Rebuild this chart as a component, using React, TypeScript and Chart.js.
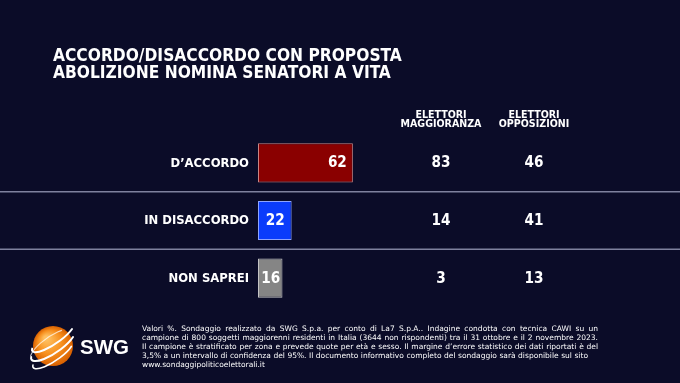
import React, { useEffect, useRef } from "react";
import { Chart, registerables } from "chart.js";

Chart.register(...registerables);

const titleLines = ["ACCORDO/DISACCORDO CON PROPOSTA", "ABOLIZIONE NOMINA SENATORI A VITA"];
const categories = ["D’ACCORDO", "IN DISACCORDO", "NON SAPREI"];
const totalValues = [62, 22, 16];
const maggioranzaValues = [83, 14, 3];
const opposizioniValues = [46, 41, 13];
const columnHeaders = [
  ["ELETTORI", "MAGGIORANZA"],
  ["ELETTORI", "OPPOSIZIONI"],
];
const footerLines = [
  "Valori %. Sondaggio realizzato da SWG S.p.a. per conto di La7 S.p.A.. Indagine condotta con tecnica CAWI su un",
  "campione di 800 soggetti maggiorenni residenti in Italia (3644 non rispondenti) tra il 31 ottobre e il 2 novembre 2023.",
  "Il campione è stratificato per zona e prevede quote per età e sesso. Il margine d’errore statistico dei dati riportati è del",
  "3,5% a un intervallo di confidenza del 95%. Il documento informativo completo del sondaggio sarà disponibile sul sito",
  "www.sondaggipoliticoelettorali.it",
];
const logoText = "SWG";

const BG = "#0b0c28";
const barFills = ["#8a0000", "#0b3cfb", "#858585"];
const barBorders = ["#c98585", "#8ea4ff", "#c4c4c4"];
const FONT = "'DejaVu Sans Condensed', 'DejaVu Sans', sans-serif";
const FOOT_FONT = "'DejaVu Sans', Verdana, sans-serif";

function fitFont(ctx: CanvasRenderingContext2D, text: string, width: number, weight: string, family: string) {
  ctx.font = `${weight} 100px ${family}`;
  const w = ctx.measureText(text).width;
  return (100 * width) / w;
}

function drawJustified(ctx: CanvasRenderingContext2D, text: string, x: number, y: number, width: number) {
  const words = text.split(" ");
  let total = 0;
  for (const w of words) total += ctx.measureText(w).width;
  const gap = (width - total) / (words.length - 1);
  let cx = x;
  for (const w of words) {
    ctx.fillText(w, cx, y);
    cx += ctx.measureText(w).width + gap;
  }
}

const decorPlugin = {
  id: "decor",
  beforeDraw(chart: any) {
    const ctx = chart.ctx as CanvasRenderingContext2D;
    ctx.save();
    ctx.fillStyle = BG;
    ctx.fillRect(0, 0, chart.width, chart.height);
    const y = chart.scales.y;
    ctx.strokeStyle = "#7f819e";
    ctx.lineWidth = 1.5;
    for (let i = 0; i < categories.length - 1; i++) {
      const yy = (y.getPixelForValue(i) + y.getPixelForValue(i + 1)) / 2;
      ctx.beginPath();
      ctx.moveTo(0, yy);
      ctx.lineTo(chart.width, yy);
      ctx.stroke();
    }
    ctx.restore();
  },
  afterDraw(chart: any) {
    const ctx = chart.ctx as CanvasRenderingContext2D;
    const yScale = chart.scales.y;
    ctx.save();
    ctx.fillStyle = "#ffffff";
    ctx.textBaseline = "middle";

    // title
    const tSize = fitFont(ctx, titleLines[0], 349, "bold", FONT);
    ctx.font = `bold ${tSize}px ${FONT}`;
    ctx.textAlign = "left";
    ctx.fillText(titleLines[0], 53, 57);
    ctx.fillText(titleLines[1], 53, 74);

    // category labels
    const cSize = fitFont(ctx, categories[1], 105, "bold", FONT);
    ctx.font = `bold ${cSize}px ${FONT}`;
    ctx.textAlign = "right";
    categories.forEach((c, i) => {
      ctx.fillText(c, 249, yScale.getPixelForValue(i) + 0.5);
    });

    // values in bars
    const vSize = fitFont(ctx, "62", 19, "bold", FONT);
    const meta = chart.getDatasetMeta(0);
    ctx.font = `bold ${vSize}px ${FONT}`;
    meta.data.forEach((bar: any, i: number) => {
      const w = bar.x - bar.base;
      const yy = bar.y + 0.5;
      if (w > 50) {
        ctx.textAlign = "right";
        ctx.fillText(String(totalValues[i]), bar.x - 6, yy);
      } else {
        ctx.textAlign = "center";
        ctx.fillText(String(totalValues[i]), (bar.x + bar.base) / 2 + 0.5, yy);
      }
    });

    // column headers and values
    const colX = [441, 534];
    const colVals = [maggioranzaValues, opposizioniValues];
    ctx.textAlign = "center";
    const hSize = fitFont(ctx, columnHeaders[0][1], 81, "bold", FONT);
    ctx.font = `bold ${hSize}px ${FONT}`;
    columnHeaders.forEach((h, k) => {
      ctx.fillText(h[0], colX[k], 115.5);
      ctx.fillText(h[1], colX[k], 124.5);
    });
    ctx.font = `bold ${vSize}px ${FONT}`;
    colVals.forEach((vals, k) => {
      vals.forEach((v, i) => {
        ctx.fillText(String(v), colX[k], yScale.getPixelForValue(i) + 0.5);
      });
    });

    // footer
    const fSize = fitFont(ctx, footerLines[4], 123, "normal", FOOT_FONT);
    ctx.font = `${fSize}px ${FOOT_FONT}`;
    ctx.textAlign = "left";
    const ends = [598, 598, 598, 588];
    footerLines.forEach((line, i) => {
      const yy = 329.5 + i * 8.8;
      if (i < footerLines.length - 1) drawJustified(ctx, line, 142, yy, ends[i] - 142);
      else ctx.fillText(line, 142, yy);
    });

    // logo sphere
    const cx = 53, cy = 346, r = 20;
    const g = ctx.createRadialGradient(cx - 7, cy - 8, 2, cx, cy, r);
    g.addColorStop(0, "#ffc060");
    g.addColorStop(0.55, "#f7901e");
    g.addColorStop(1, "#d86000");
    ctx.fillStyle = g;
    ctx.beginPath();
    ctx.arc(cx, cy, r, 0, Math.PI * 2);
    ctx.fill();
    ctx.strokeStyle = "#ffffff";
    ctx.lineCap = "round";
    const rings = [
      { rx: 25, ry: 7, dy: -9, lw: 2 },
      { rx: 26, ry: 8, dy: -1, lw: 2 },
      { rx: 24, ry: 7, dy: 8, lw: 1.6 },
    ];
    rings.forEach((rg) => {
      ctx.lineWidth = rg.lw;
      ctx.beginPath();
      ctx.ellipse(cx, cy + rg.dy, rg.rx, rg.ry, -0.6, Math.PI * 0.2, Math.PI * 1.1);
      ctx.stroke();
    });
    ctx.lineWidth = 1.2;
    ctx.strokeStyle = "rgba(255,255,255,0.7)";
    ctx.beginPath();
    ctx.ellipse(cx, cy, 27, 10, -0.6, Math.PI * 1.15, Math.PI * 1.7);
    ctx.stroke();

    // logo text
    const lSize = fitFont(ctx, logoText, 49, "bold", "'Liberation Sans', Arial, sans-serif");
    ctx.font = `bold ${lSize}px 'Liberation Sans', Arial, sans-serif`;
    ctx.fillStyle = "#ffffff";
    ctx.textAlign = "left";
    ctx.fillText(logoText, 80, 348);

    ctx.restore();
  },
};

export default function App() {
  const ref = useRef<HTMLCanvasElement | null>(null);
  useEffect(() => {
    document.body.style.margin = "0";
    document.body.style.overflow = "hidden";
    document.body.style.background = BG;
    if (!ref.current) return;
    const chart = new Chart(ref.current, {
      type: "bar",
      data: {
        labels: categories,
        datasets: [
          {
            data: totalValues,
            backgroundColor: barFills,
            borderColor: barBorders,
            borderWidth: 1,
            borderSkipped: false,
            barPercentage: 0.68,
            categoryPercentage: 1,
          },
        ],
      },
      options: {
        indexAxis: "y",
        responsive: false,
        animation: false,
        devicePixelRatio: 1,
        layout: { padding: { left: 258, right: 269, top: 134, bottom: 76 } },
        plugins: { legend: { display: false }, tooltip: { enabled: false } },
        scales: {
          x: { display: false, min: 0, max: 100 },
          y: { display: false },
        },
      },
      plugins: [decorPlugin],
    });
    return () => chart.destroy();
  }, []);
  return (
    <div style={{ width: 680, height: 383, background: BG }}>
      <canvas ref={ref} width={680} height={383} style={{ display: "block" }} />
    </div>
  );
}
